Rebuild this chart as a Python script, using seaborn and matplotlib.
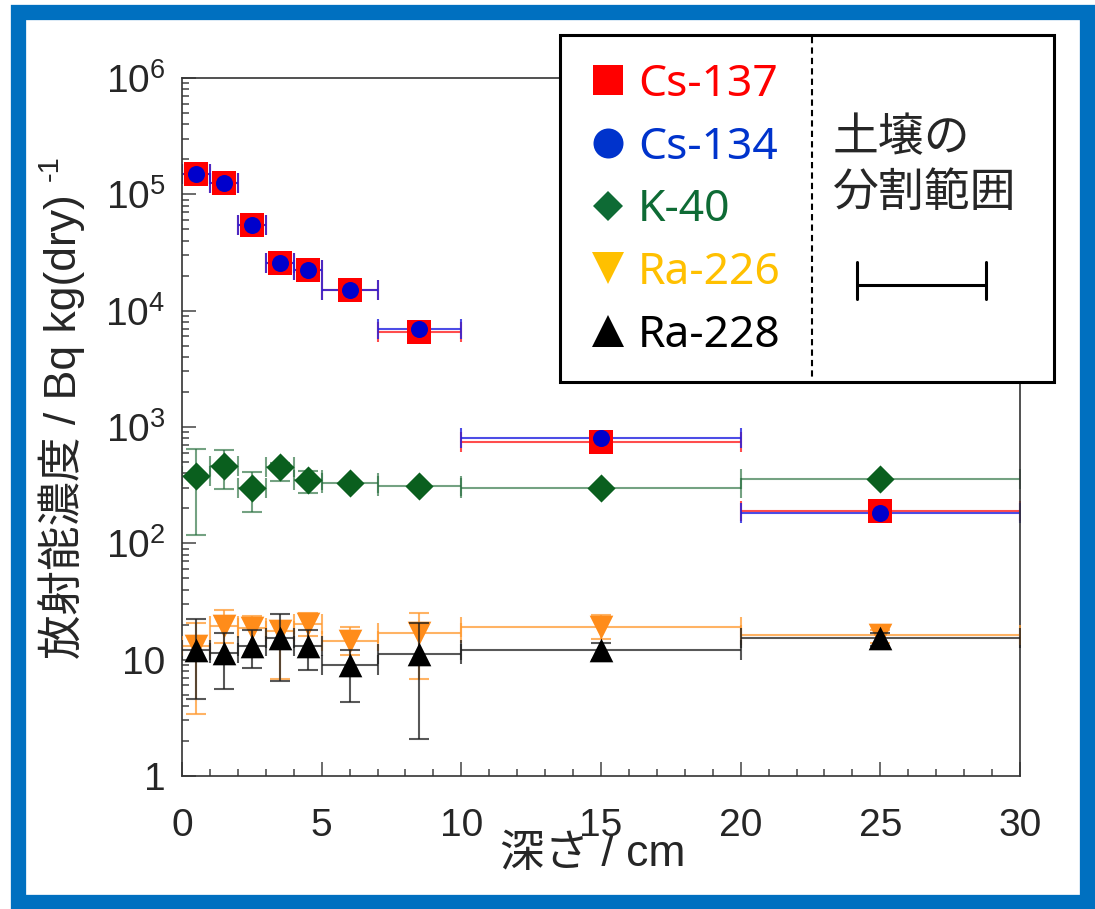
import numpy as np
import pandas as pd
import matplotlib
matplotlib.use("Agg")
import matplotlib.pyplot as plt
import seaborn as sns
from matplotlib.lines import Line2D
from matplotlib.patches import Rectangle
from matplotlib.ticker import MultipleLocator, LogLocator, FuncFormatter, NullFormatter

# ---------------- data ----------------
depth_top = [0, 1, 2, 3, 4, 5, 7, 10, 20]
depth_bottom = [1, 2, 3, 4, 5, 7, 10, 20, 30]

cs137 = [1.51e5, 1.26e5, 5.4e4, 2.55e4, 2.25e4, 1.5e4, 6.5e3, 745, 190]
cs134 = [1.51e5, 1.26e5, 5.4e4, 2.55e4, 2.25e4, 1.5e4, 6.9e3, 810, 182]

k40 = [380, 463, 301, 454, 349, 329, 312, 301, 356]
k40_low = [117, 292, 186, 344, 273, 329, 312, 301, 356]
k40_high = [652, 632, 411, 494, 417, 329, 312, 301, 356]

ra226 = [13.0, 19.5, 18.6, 17.7, 20.2, 14.5, 17.1, 19.2, 16.2]
ra226_low = [3.4, 14.0, 10.8, 6.8, 16.0, 11.0, 6.8, 15.2, 14.0]
ra226_high = [20.6, 26.7, 23.8, 21.0, 25.4, 19.1, 25.0, 24.0, 18.0]

ra228 = [12.0, 11.5, 13.1, 15.5, 13.1, 9.0, 11.1, 12.0, 15.3]
ra228_low = [4.6, 5.6, 8.4, 6.5, 8.1, 4.3, 2.07, 10.0, 13.0]
ra228_high = [22.5, 17.0, 18.0, 24.6, 18.0, 12.0, 20.6, 14.0, 17.0]

legend_labels = ["Cs-137", "Cs-134", "K-40", "Ra-226", "Ra-228"]

# ---------------- style ----------------
sns.set_theme(style="ticks")
plt.rcParams["font.family"] = ["Liberation Sans", "Noto Sans CJK JP", "DejaVu Sans"]
plt.rcParams["mathtext.fontset"] = "custom"
plt.rcParams["mathtext.rm"] = "Liberation Sans"
plt.rcParams["mathtext.it"] = "Liberation Sans:italic"
plt.rcParams["mathtext.bf"] = "Liberation Sans:bold"

W, H = 1095, 909
fig = plt.figure(figsize=(W / 100, H / 100), dpi=100)
fig.patch.set_facecolor("white")
ax = fig.add_axes([182 / W, 1 - 776 / H, (1020 - 182) / W, (776 - 78) / H])
ax.set_facecolor("white")

mid = [(a + b) / 2 for a, b in zip(depth_top, depth_bottom)]
df = pd.DataFrame({
    "mid": mid,
    "xl": [m - a for m, a in zip(mid, depth_top)],
    "xh": [b - m for m, b in zip(mid, depth_bottom)],
    "cs137": cs137, "cs134": cs134,
    "k40": k40, "k40_lo": k40_low, "k40_hi": k40_high,
    "ra226": ra226, "ra226_lo": ra226_low, "ra226_hi": ra226_high,
    "ra228": ra228, "ra228_lo": ra228_low, "ra228_hi": ra228_high,
})
xerr = [df["xl"], df["xh"]]

# Cs error bars (horizontal only)
ax.errorbar(df["mid"], df["cs137"], xerr=xerr, fmt="none", ecolor="#FF2020",
            elinewidth=1.5, capsize=7, capthick=1.5, alpha=0.8, zorder=2)
ax.errorbar(df["mid"], df["cs134"], xerr=xerr, fmt="none", ecolor="#2020E0",
            elinewidth=1.5, capsize=7, capthick=1.5, alpha=0.8, zorder=2)
# K-40
ax.errorbar(df["mid"], df["k40"], xerr=xerr,
            yerr=[df["k40"] - df["k40_lo"], df["k40_hi"] - df["k40"]],
            fmt="none", ecolor="#2A7040", elinewidth=1.5, capsize=7, capthick=1.5,
            alpha=0.65, zorder=2)

sns.scatterplot(data=df, x="mid", y="cs137", marker="s", s=300, color="#FF0000",
                linewidth=0, ax=ax, zorder=4)
sns.scatterplot(data=df, x="mid", y="cs134", marker="o", s=150, color="#0000CC",
                linewidth=0, ax=ax, zorder=5)
sns.scatterplot(data=df, x="mid", y="k40", marker="D", s=205, color="#0A5F1E",
                linewidth=0, ax=ax, zorder=5)

# Ra-226
ax.errorbar(df["mid"], df["ra226"], xerr=xerr,
            yerr=[df["ra226"] - df["ra226_lo"], df["ra226_hi"] - df["ra226"]],
            fmt="none", ecolor="#FF9A30", elinewidth=1.5, capsize=7, capthick=1.5,
            alpha=0.75, zorder=6)
sns.scatterplot(data=df, x="mid", y="ra226", marker="v", s=290, color="#FF8C1A",
                linewidth=0, ax=ax, zorder=7)
# Ra-228
ax.errorbar(df["mid"], df["ra228"], xerr=xerr,
            yerr=[df["ra228"] - df["ra228_lo"], df["ra228_hi"] - df["ra228"]],
            fmt="none", ecolor="#202020", elinewidth=1.5, capsize=7, capthick=1.5,
            alpha=0.75, zorder=8)
sns.scatterplot(data=df, x="mid", y="ra228", marker="^", s=290, color="#000000",
                linewidth=0, ax=ax, zorder=9)

# ---------------- axes ----------------
ax.set_yscale("log")
ax.set_xlim(0, 30)
ax.set_ylim(1, 1e6)
ax.xaxis.set_major_locator(MultipleLocator(5))
ax.xaxis.set_minor_locator(MultipleLocator(1))
ax.yaxis.set_major_locator(LogLocator(base=10, numticks=10))
ax.yaxis.set_minor_locator(LogLocator(base=10, subs=np.arange(2, 10), numticks=20))
ax.yaxis.set_minor_formatter(NullFormatter())


def yfmt(v, pos):
    if v < 1.5:
        return "1"
    if v < 15:
        return "10"
    return r"$\mathregular{10^{%d}}$" % int(round(np.log10(v)))


ax.yaxis.set_major_formatter(FuncFormatter(yfmt))
ax.tick_params(axis="both", which="both", direction="in", top=False, right=False,
               color="#444444", width=1.1)
ax.tick_params(axis="both", which="major", length=10, labelsize=28)
ax.tick_params(axis="both", which="minor", length=5)
ax.tick_params(axis="x", which="major", pad=23)
ax.tick_params(axis="y", which="major", pad=12)
for lab in ax.get_xticklabels() + ax.get_yticklabels():
    lab.set_family("Liberation Sans")
for sp in ax.spines.values():
    sp.set_color("#333333")
    sp.set_linewidth(1.2)

lab_family = ["Liberation Sans", "Noto Sans CJK JP"]
ax.set_ylabel("放射能濃度 / Bq kg(dry)", fontsize=32, family=lab_family, va="center")
ax.yaxis.set_label_coords((62 - 182) / 838, 0.5)
ax.set_xlabel("深さ / cm", fontsize=32, family=lab_family, va="center")
ax.xaxis.set_label_coords((593 - 182) / 838, -(855 - 776) / 698)

# superscript of the y label (rotated, raised toward the left)
fig.text(36 / W, 1 - 181 / H, "-1", rotation=90, ha="left", va="bottom",
         fontsize=21, family="Liberation Sans")

# ---------------- legend ----------------
fig.patches.append(Rectangle((560 / W, 1 - 382 / H), (1054 - 560) / W, (382 - 35) / H,
                             transform=fig.transFigure, facecolor="white",
                             edgecolor="black", linewidth=2.2, zorder=5))
fig.add_artist(Line2D([812 / W, 812 / W], [1 - 37 / H, 1 - 380 / H],
                      transform=fig.transFigure, color="black", linewidth=1.5,
                      linestyle=(0, (3, 2)), zorder=6))

leg_colors = ["#FF0000", "#0033CC", "#0E6B35", "#FFC000", "#000000"]
leg_markers = ["s", "o", "D", "v", "^"]
leg_sizes = [21.6, 21.6, 14.8, 23.5, 23.5]
handles = [Line2D([], [], linestyle="none", marker=m, markersize=s, color=c,
                  markeredgewidth=0)
           for m, s, c in zip(leg_markers, leg_sizes, leg_colors)]
leg = fig.legend(handles, legend_labels, loc="upper left",
                 bbox_to_anchor=(585.8 / W, 1 - 63 / H), bbox_transform=fig.transFigure,
                 frameon=False, prop={"family": "Noto Sans", "size": 32},
                 handlelength=1.0, handletextpad=0.18, labelspacing=0.42,
                 borderpad=0, borderaxespad=0, labelcolor=leg_colors)
leg.set_zorder(7)

fig.text(833 / W, 1 - 138 / H, "土壌の", fontsize=33, family="Noto Sans CJK JP",
         ha="left", va="center", zorder=7)
fig.text(833 / W, 1 - 193 / H, "分割範囲", fontsize=33, family="Noto Sans CJK JP",
         ha="left", va="center", zorder=7)
fig.add_artist(Line2D([857 / W, 986 / W], [1 - 285 / H] * 2, transform=fig.transFigure,
                      color="black", linewidth=2.2, zorder=7))
for xx in (857, 986):
    fig.add_artist(Line2D([xx / W, xx / W], [1 - 262 / H, 1 - 299 / H],
                          transform=fig.transFigure, color="black", linewidth=2.2, zorder=7))

# blue frame around the figure
fig.patches.append(Rectangle((18 / W, 1 - 902 / H), (1087 - 18) / W, (902 - 11.5) / H,
                             transform=fig.transFigure, facecolor="none",
                             edgecolor="#0070C0", linewidth=11, zorder=10))

fig.savefig("out.png", dpi=100, facecolor="white")
